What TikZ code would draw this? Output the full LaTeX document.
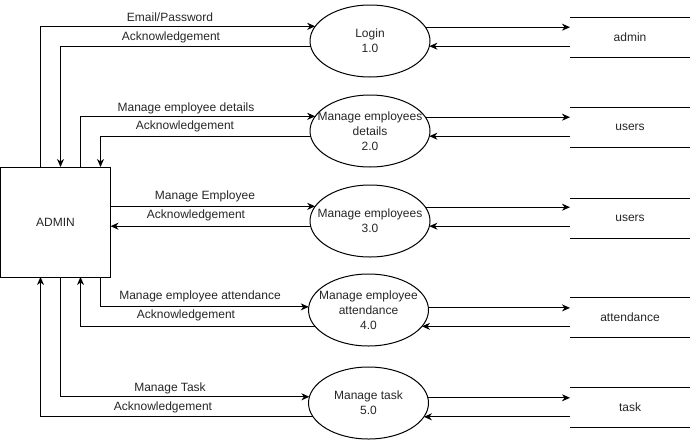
\documentclass[tikz,border=0pt]{standalone}
\usepackage{fontspec}
\setmainfont{Liberation Sans}
\usetikzlibrary{arrows.meta,shapes.geometric}

\begin{document}
\begin{tikzpicture}[x=1pt,y=-1pt,
  every node/.style={font=\fontsize{12}{15}\selectfont, text=black!85},
  flow/.style={draw=black, line width=1pt, -{Stealth[length=8pt,width=7pt,inset=2.5pt]}},
  entity/.style={draw=black, line width=1pt, minimum width=110pt, minimum height=110pt, inner sep=0pt, outer sep=0pt},
  process/.style={ellipse, draw=black, line width=1pt, minimum width=120pt, minimum height=72pt, inner sep=0pt, outer sep=0pt,
    label={[align=center, inner sep=0pt]center:#1}},
  store/.style={minimum width=120pt, minimum height=40pt, inner sep=0pt, outer sep=0pt},
  storeline/.style={draw=black, line width=1pt},
  flowlabel/.style={inner sep=0pt}
]
\useasboundingbox (0,0) rectangle (692,439);

% external entity
\node[entity] (admin) at (55.5,222) {ADMIN};

% processes (fixed ellipse size, text set as a centred label)
\node[process={Login\\1.0}]                        (e1) at (370,41)    {};
\node[process={Manage employees\\details\\2.0}]    (e2) at (370,131)   {};
\node[process={Manage employees\\3.0}]             (e3) at (370,221)   {};
\node[process={Manage employee\\attendance\\4.0}]  (e4) at (368.5,310) {};
\node[process={Manage task\\5.0}]                  (e5) at (368.5,403) {};

% data stores
\node[store] (s1) at (630,37)    {admin};
\node[store] (s2) at (630,127)   {users};
\node[store] (s3) at (630,218)   {users};
\node[store] (s4) at (630,317)   {attendance};
\node[store] (s5) at (630,407.5) {task};
\foreach \s in {s1,s2,s3,s4,s5}{
  \draw[storeline] (\s.north west) -- (\s.north east);
  \draw[storeline] (\s.south west) -- (\s.south east);
}

% admin <-> processes
\draw[flow] ([xshift=40pt]admin.north west) |- (e1.165.79);
\draw[flow] (e1.185.79) -| ([xshift=60pt]admin.north west);
\draw[flow] ([xshift=80pt]admin.north west) |- (e2.165.79);
\draw[flow] (e2.185.79) -| ([xshift=100pt]admin.north west);
\draw[flow] (admin.east |- e3.165.79) -- (e3.165.79);
\draw[flow] (e3.185.79) -- (admin.east |- e3.185.79);
\draw[flow] ([xshift=100pt]admin.south west) |- (e4.177.13);
\draw[flow] (e4.197.82) -| ([xshift=80pt]admin.south west);
\draw[flow] ([xshift=60pt]admin.south west) |- (e5.174.21);
\draw[flow] (e5.194.21) -| ([xshift=40pt]admin.south west);

% flow labels
\node[flowlabel] (l1a) at (170,17)  {Email/Password};
\node[flowlabel] (l1b) at (171,37)  {Acknowledgement};
\node[flowlabel] (l2a) at (186,108) {Manage employee details};
\node[flowlabel] (l2b) at (185,126) {Acknowledgement};
\node[flowlabel] (l3a) at (205,196) {Manage Employee};
\node[flowlabel] (l3b) at (196,215) {Acknowledgement};
\node[flowlabel] (l4a) at (200,296) {Manage employee attendance};
\node[flowlabel] (l4b) at (186,315) {Acknowledgement};
\node[flowlabel] (l5a) at (170,388) {Manage Task};
\node[flowlabel] (l5b) at (163,407) {Acknowledgement};

% processes <-> data stores
\draw[flow] (e1.14.21) -- (s1.west |- e1.14.21);
\draw[flow] (s1.west |- e1.-5.79) -- (e1.-5.79);
\draw[flow] (e2.14.21) -- (s2.west |- e2.14.21);
\draw[flow] (s2.west |- e2.-5.79) -- (e2.-5.79);
\draw[flow] (e3.14.21) -- (s3.west |- e3.14.21);
\draw[flow] (s3.west |- e3.-5.79) -- (e3.-5.79);
\draw[flow] (e4.2.87) -- (s4.west |- e4.2.87);
\draw[flow] (s4.west |- e4.-17.82) -- (e4.-17.82);
\draw[flow] (e5.5.79) -- (s5.west |- e5.5.79);
\draw[flow] (s5.west |- e5.-14.21) -- (e5.-14.21);
\end{tikzpicture}
\end{document}
